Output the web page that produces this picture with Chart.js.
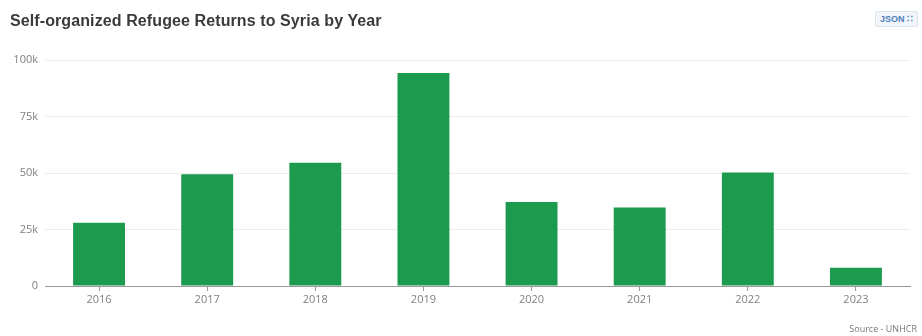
<!DOCTYPE html>
<html lang="en">
<head>
    <meta charset="UTF-8">
    <title>Self-organized Refugee Returns to Syria by Year</title>
    <script src="https://cdn.jsdelivr.net/npm/chart.js"></script>
    <style>
        body {
            margin: 0;
            background: #fff;
            font-family: "Liberation Sans", Arial, sans-serif;
        }
        .wrap {
            position: relative;
            width: 922px;
            height: 336px;
        }
        .title {
            position: absolute;
            left: 10px;
            top: 12px;
            font-size: 16px;
            letter-spacing: 0.1px;
            font-weight: bold;
            color: #3a3a3a;
        }
        .json {
            position: absolute;
            right: 4px;
            top: 11px;
            padding: 2px 4px;
            font-size: 9px;
            font-weight: bold;
            color: #4a7fc0;
            background: #f2f5f9;
            border: 1px solid #dde3ea;
            border-radius: 2px;
        }
        .source {
            position: absolute;
            right: 5px;
            bottom: 1px;
            font-size: 9px;
            color: #777;
            font-family: "Open Sans", sans-serif;
        }
    </style>
</head>
<body>
    <div class="wrap">
        <canvas id="returnsChart" width="922" height="336"></canvas>
        <div class="title">Self-organized Refugee Returns to Syria by Year</div>
        <div class="json">JSON &#x2237;</div>
        <div class="source">Source - UNHCR</div>
    </div>

    <script>
        const years = ["2016", "2017", "2018", "2019", "2020", "2021", "2022", "2023"];
        const returns = [28000, 49500, 54500, 94300, 37200, 34700, 50200, 8100];
        const yTicks = [0, 25000, 50000, 75000, 100000];

        const ctx = document.getElementById("returnsChart").getContext("2d");

        new Chart(ctx, {
            type: "bar",
            data: {
                labels: years,
                datasets: [{
                    label: "Returns",
                    data: returns,
                    backgroundColor: "#1c9a4d",
                    barPercentage: 0.48,
                    categoryPercentage: 1
                }]
            },
            options: {
                responsive: false,
                animation: false,
                layout: { padding: { left: 10, right: 12, top: 60, bottom: 0 } },
                plugins: {
                    legend: { display: false },
                    tooltip: { enabled: false }
                },
                scales: {
                    x: {
                        afterFit: (axis) => { axis.height = 50; },
                        grid: {
                            display: true,
                            drawOnChartArea: false,
                            offset: false,
                            tickLength: 5,
                            color: "#999"
                        },
                        border: { display: true, color: "#999" },
                        ticks: {
                            color: "#808080",
                            font: { family: "Open Sans", size: 11 },
                            padding: 2
                        }
                    },
                    y: {
                        min: 0,
                        max: 100000,
                        afterFit: (axis) => { axis.width = 35; },
                        afterBuildTicks: (axis) => {
                            axis.ticks = yTicks.map(v => ({ value: v }));
                        },
                        grid: { color: "#ececec", drawTicks: false },
                        border: { display: false },
                        ticks: {
                            color: "#808080",
                            font: { family: "Open Sans", size: 11 },
                            padding: 7,
                            callback: (v) => v === 0 ? "0" : (v / 1000) + "k"
                        }
                    }
                }
            }
        });
    </script>
</body>
</html>
